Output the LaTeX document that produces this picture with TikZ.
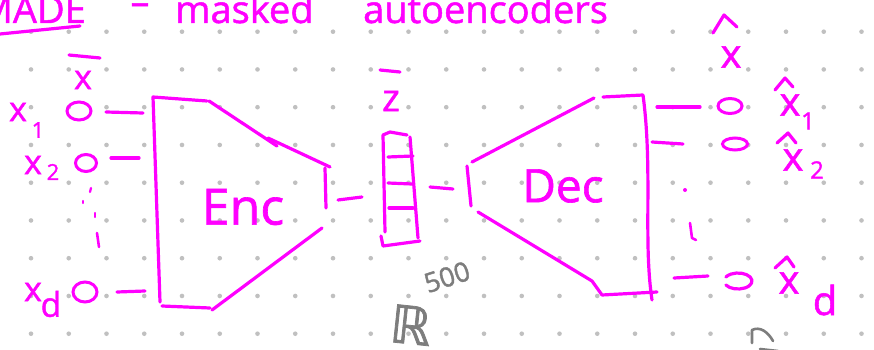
\documentclass[tikz,border=0pt]{standalone}
\usepackage{fontspec}
\setmainfont{Open Sans}
\newfontfamily\handfont[FakeBold=1.3]{Open Sans}
\newfontfamily\symfont[FakeBold=1.5]{DejaVu Sans}
\usetikzlibrary{shapes.geometric}
\definecolor{ink}{RGB}{255,0,255}
\definecolor{pencil}{RGB}{125,125,125}
\definecolor{griddot}{RGB}{192,192,192}

\begin{document}
\begin{tikzpicture}[x=1pt,y=-1pt,
  pen/.style={draw=ink,line width=3.2pt,line cap=round,line join=round},
  greypen/.style={draw=pencil,line width=2.6pt,line cap=round,line join=round},
  hand/.style={text=ink,inner sep=0pt,font=\handfont\fontsize{#1}{#1}\selectfont},
  unit/.style={ellipse,draw=ink,line width=3pt,inner sep=0pt},
]
\useasboundingbox (0,0) rectangle (874,350);
\fill[white] (0,0) rectangle (874,350);

% dotted paper
\foreach \i in {0,...,22}
  \foreach \j in {0,...,8}
    \fill[griddot] ({31+37.75*\i},{31.7+37.75*\j}) circle (2.3);

% title
\node[hand=38,anchor=base east] (tmade) at (86,23) {MADE};
\node[hand=38,anchor=base] (tdash) at (140,15) {–};
\node[hand=38,anchor=base west] (tmasked) at (175,23) {masked};
\node[hand=38,anchor=base west] (tauto) at (363,23) {autoencoders};
\draw[pen] (0,34) -- (80,26);

% input units
\node[hand=34] (xin) at (83,80) {x};
\draw[pen] (69,55) -- (100,58);

\node[unit,minimum width=24pt,minimum height=18pt] (u1) at (79,111) {};
\node[unit,minimum width=21pt,minimum height=17pt] (u2) at (86,163) {};
\node[unit,minimum width=24pt,minimum height=20pt] (ud) at (85,292) {};

\node[hand=34] (lx1) at (18,112) {x};
\node[hand=22] (lx1s) at (38,130) {1};
\node[hand=34] (lx2) at (33,165) {x};
\node[hand=22] (lx2s) at (53,172) {2};
\node[hand=34] (lxd) at (33,292) {x};
\node[hand=34] (lxds) at (51,304) {d};

% vertical ellipsis between inputs
\draw[pen,line width=2.2pt] (91,188) -- (90,192);
\draw[pen,line width=2.2pt] (83,201) -- (83,203);
\draw[pen,line width=2.2pt] (95,213) -- (95,217);
\draw[pen,line width=2.6pt] (97,233) -- (99,247);

% input wires
\coordinate (w1a) at (106,112); \coordinate (w1b) at (143,113);
\coordinate (w2a) at (111,158); \coordinate (w2b) at (139,158);
\coordinate (wda) at (117,292); \coordinate (wdb) at (145,291);
\draw[pen] (w1a) -- (w1b);
\draw[pen] (w2a) -- (w2b);
\draw[pen] (wda) -- (wdb);

% encoder
\draw[pen] (207,101) -- (153,97) -- (160,302);
\draw[pen] (209,101) -- (277,146);
\draw[pen] (268,138) -- (330,167);
\draw[pen] (325,168) -- (326,208);
\draw[pen] (322,228) -- (212,310);
\draw[pen] (162,306) -- (210,308);
\node[hand=50] (enc) at (243,207) {Enc};

% encoder to code
\coordinate (ea) at (338,200); \coordinate (eb) at (362,197);
\draw[pen] (ea) -- (eb);

% latent code z
\node[hand=38] (zlab) at (391,101) {z};
\draw[pen] (380,70) -- (400,72);
\draw[pen] (407,135) -- (390,132) -- (383,135) -- (385,232);
\draw[pen] (381,236) -- (383,246) -- (420,241);
\draw[pen] (410,137) -- (418,238);
\draw[pen] (388,157) -- (413,156);
\draw[pen] (388,183) -- (412,184);
\draw[pen] (389,208) -- (413,208);

% code to decoder
\coordinate (da) at (430,187); \coordinate (db) at (453,189);
\draw[pen] (da) -- (db);

% decoder
\draw[pen] (467,166) -- (471,206);
\draw[pen] (472,162) -- (594,98);
\draw[pen] (603,97) -- (643,95) .. controls (653,170) and (643,240) .. (652,300);
\draw[pen] (478,212) -- (592,281) -- (602,295) -- (657,292);
\node[hand=46] (dec) at (563,186) {Dec};

% output wires
\coordinate (o1a) at (657,107); \coordinate (o1b) at (700,107);
\coordinate (o2a) at (652,142); \coordinate (o2b) at (683,144);
\coordinate (oda) at (674,278); \coordinate (odb) at (708,276);
\draw[pen] (o1a) -- (o1b);
\draw[pen] (o2a) -- (o2b);
\draw[pen] (oda) -- (odb);

% output units
\node[unit,minimum width=24pt,minimum height=15pt] (v1) at (730,106) {};
\node[unit,minimum width=25pt,minimum height=12pt] (v2) at (735,144) {};
\coordinate (vd) at (738,281);
\draw[pen] ([shift={(150:14 and 8)}]vd) arc[start angle=150,end angle=-150,x radius=14,y radius=8];

% output ellipsis
\fill[ink] (685,190) circle (2);
\draw[pen,line width=2.6pt] (690,223) -- (692,238) -- (696,240);

% output labels
\node[hand=40] (xout) at (731,57) {x};
\draw[pen] (713,33) -- (724,15) -- (737,27);
\node[hand=40] (ox1) at (790,105) {x};
\draw[pen] (775,90) -- (785,78) -- (793,87);
\node[hand=24] (ox1s) at (808,121) {1};
\node[hand=40] (ox2) at (793,160) {x};
\draw[pen] (777,143) -- (788,133) -- (796,143);
\node[hand=24] (ox2s) at (817,170) {2};
\node[hand=40] (oxd) at (789,283) {x};
\draw[pen] (775,268) -- (787,257) -- (794,267);
\node[hand=40] (oxds) at (825,300) {d};

% dimension of the code space
\node[text=pencil,inner sep=0pt,font=\symfont\fontsize{52}{52}\selectfont,rotate=-6] (reals) at (411,325) {ℝ};
\node[text=pencil,inner sep=0pt,font=\handfont\fontsize{27}{27}\selectfont,rotate=18] (dim) at (447,277) {500};

% stray pencil stroke
\draw[greypen] (752,343) -- (752,330) .. controls (760,326) and (768,332) .. (773,341);
\draw[greypen] (760,349) -- (778,351);
\end{tikzpicture}
\end{document}
